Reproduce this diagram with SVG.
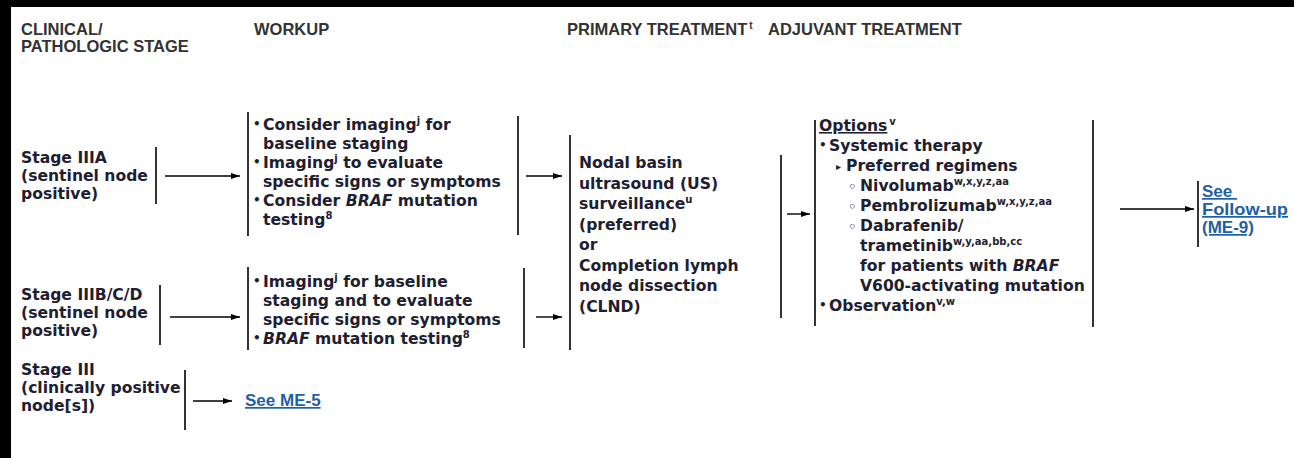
<svg xmlns="http://www.w3.org/2000/svg" width="1294" height="458" viewBox="0 0 1294 458">
<defs>
<marker id="ah" markerWidth="9" markerHeight="7" refX="9" refY="3.5" orient="auto" markerUnits="userSpaceOnUse"><path d="M0,0.5 L9,3.5 L0,6.5 z" fill="#000"/></marker>
</defs>
<style>
.hd{font-family:"Liberation Sans",Arial,sans-serif;font-weight:bold;font-size:16.5px;fill:#333}
.tx{font-family:"DejaVu Sans",Verdana,sans-serif;font-weight:bold;font-size:15.6px;fill:#1e2030}
.bu{font-family:"DejaVu Sans",Verdana,sans-serif;font-weight:bold;font-size:12px;fill:#1e2030}
.it{font-style:italic}
.sup{font-size:10px}
.lk{font-family:"Liberation Sans",Arial,sans-serif;font-weight:bold;font-size:17px;fill:#1f5fa6;text-decoration:underline}
.ln{stroke:#000;stroke-width:1.6;fill:none}
.ar{stroke:#000;stroke-width:1.4;fill:none;marker-end:url(#ah)}
</style>
<rect width="1294" height="458" fill="#000"/>
<rect x="11" y="7" width="1283" height="451" fill="#fff"/>

<g id="headers">
<text class="hd" x="21" y="35">CLINICAL/</text>
<text class="hd" x="21" y="52">PATHOLOGIC STAGE</text>
<text class="hd" x="254" y="35">WORKUP</text>
<text class="hd" x="567" y="35">PRIMARY TREATMENT<tspan class="sup" dx="2" dy="-6">t</tspan></text>
<text class="hd" x="768" y="35">ADJUVANT TREATMENT</text>
</g>

<g id="stage-iiia">
<text class="tx" x="21" y="163">Stage IIIA</text>
<text class="tx" x="21" y="181">(sentinel node</text>
<text class="tx" x="21" y="199">positive)</text>
<line class="ln" x1="156" y1="147" x2="156" y2="204"/>
</g>

<g id="stage-iiibcd">
<text class="tx" x="21" y="300">Stage IIIB/C/D</text>
<text class="tx" x="21" y="318">(sentinel node</text>
<text class="tx" x="21" y="336">positive)</text>
<line class="ln" x1="160" y1="285" x2="160" y2="345"/>
</g>

<g id="stage-iii">
<text class="tx" x="21" y="375">Stage III</text>
<text class="tx" x="21" y="393">(clinically positive</text>
<text class="tx" x="21" y="411">node[s])</text>
<line class="ln" x1="185" y1="370" x2="185" y2="430"/>
</g>

<g id="see-me5">
<text class="lk" x="245" y="406">See ME-5</text>
</g>

<g id="workup-1">
<line class="ln" x1="248" y1="112" x2="248" y2="236"/>
<line class="ln" x1="518" y1="116" x2="518" y2="235"/>
<text class="bu" x="253" y="128">•</text>
<text class="tx" x="263" y="130">Consider imaging<tspan class="sup" dy="-6">j</tspan><tspan dy="6"> for</tspan></text>
<text class="tx" x="263" y="149">baseline staging</text>
<text class="bu" x="253" y="166">•</text>
<text class="tx" x="263" y="168">Imaging<tspan class="sup" dy="-6">j</tspan><tspan dy="6"> to evaluate</tspan></text>
<text class="tx" x="263" y="187">specific signs or symptoms</text>
<text class="bu" x="253" y="204">•</text>
<text class="tx" x="263" y="206">Consider <tspan class="it">BRAF</tspan> mutation</text>
<text class="tx" x="263" y="225">testing<tspan class="sup" dy="-6">8</tspan></text>
</g>

<g id="workup-2">
<line class="ln" x1="248" y1="267" x2="248" y2="350"/>
<line class="ln" x1="524" y1="268" x2="524" y2="348"/>
<text class="bu" x="253" y="285">•</text>
<text class="tx" x="263" y="287">Imaging<tspan class="sup" dy="-6">j</tspan><tspan dy="6"> for baseline</tspan></text>
<text class="tx" x="263" y="306">staging and to evaluate</text>
<text class="tx" x="263" y="325">specific signs or symptoms</text>
<text class="bu" x="253" y="342">•</text>
<text class="tx" x="263" y="344"><tspan class="it">BRAF</tspan> mutation testing<tspan class="sup" dy="-6">8</tspan></text>
</g>

<g id="primary">
<line class="ln" x1="570" y1="135" x2="570" y2="350"/>
<text class="tx" x="579" y="168">Nodal basin</text>
<text class="tx" x="579" y="188.5">ultrasound (US)</text>
<text class="tx" x="579" y="209">surveillance<tspan class="sup" dy="-6">u</tspan></text>
<text class="tx" x="579" y="229.5">(preferred)</text>
<text class="tx" x="579" y="250">or</text>
<text class="tx" x="579" y="270.5">Completion lymph</text>
<text class="tx" x="579" y="291">node dissection</text>
<text class="tx" x="579" y="311.5">(CLND)</text>
</g>

<g id="adjuvant">
<line class="ln" x1="815" y1="120" x2="815" y2="326"/>
<line class="ln" x1="1093" y1="120" x2="1093" y2="327"/>
<text class="tx" x="819" y="131"><tspan text-decoration="underline">Options</tspan><tspan class="sup" dx="2" dy="-6">v</tspan></text>
<text class="bu" x="819" y="149">•</text>
<text class="tx" x="829" y="151">Systemic therapy</text>
<text class="tx" x="836" y="170" style="font-size:10px">▸</text>
<text class="tx" x="846" y="171">Preferred regimens</text>
<text class="tx" x="848" y="191" style="font-size:13px">◦</text>
<text class="tx" x="860" y="191">Nivolumab<tspan class="sup" dy="-6">w,x,y,z,aa</tspan></text>
<text class="tx" x="848" y="211" style="font-size:13px">◦</text>
<text class="tx" x="860" y="211">Pembrolizumab<tspan class="sup" dy="-6">w,x,y,z,aa</tspan></text>
<text class="tx" x="848" y="231" style="font-size:13px">◦</text>
<text class="tx" x="860" y="231">Dabrafenib/</text>
<text class="tx" x="860" y="251">trametinib<tspan class="sup" dy="-6">w,y,aa,bb,cc</tspan></text>
<text class="tx" x="860" y="271">for patients with <tspan class="it">BRAF</tspan></text>
<text class="tx" x="860" y="291">V600-activating mutation</text>
<text class="bu" x="819" y="309">•</text>
<text class="tx" x="829" y="311">Observation<tspan class="sup" dy="-6">v,w</tspan></text>
</g>

<g id="follow-up">
<line class="ln" x1="1198" y1="181" x2="1198" y2="247"/>
<text class="lk" x="1202" y="197">See&#160;</text>
<text class="lk" x="1202" y="215" textLength="86" lengthAdjust="spacingAndGlyphs">Follow-up</text>
<text class="lk" x="1202" y="233">(ME-9)</text>
</g>

<g id="connectors">
<line class="ar" x1="165" y1="176" x2="240" y2="176"/>
<line class="ar" x1="170" y1="317" x2="240" y2="317"/>
<line class="ar" x1="193" y1="401" x2="232" y2="401"/>
<line class="ar" x1="526" y1="176" x2="562" y2="176"/>
<line class="ar" x1="536" y1="317" x2="562" y2="317"/>
<line class="ln" x1="781" y1="155" x2="781" y2="318"/>
<line class="ar" x1="787" y1="214" x2="810" y2="214"/>
<line class="ar" x1="1120" y1="209" x2="1194" y2="209"/>
</g>
</svg>
